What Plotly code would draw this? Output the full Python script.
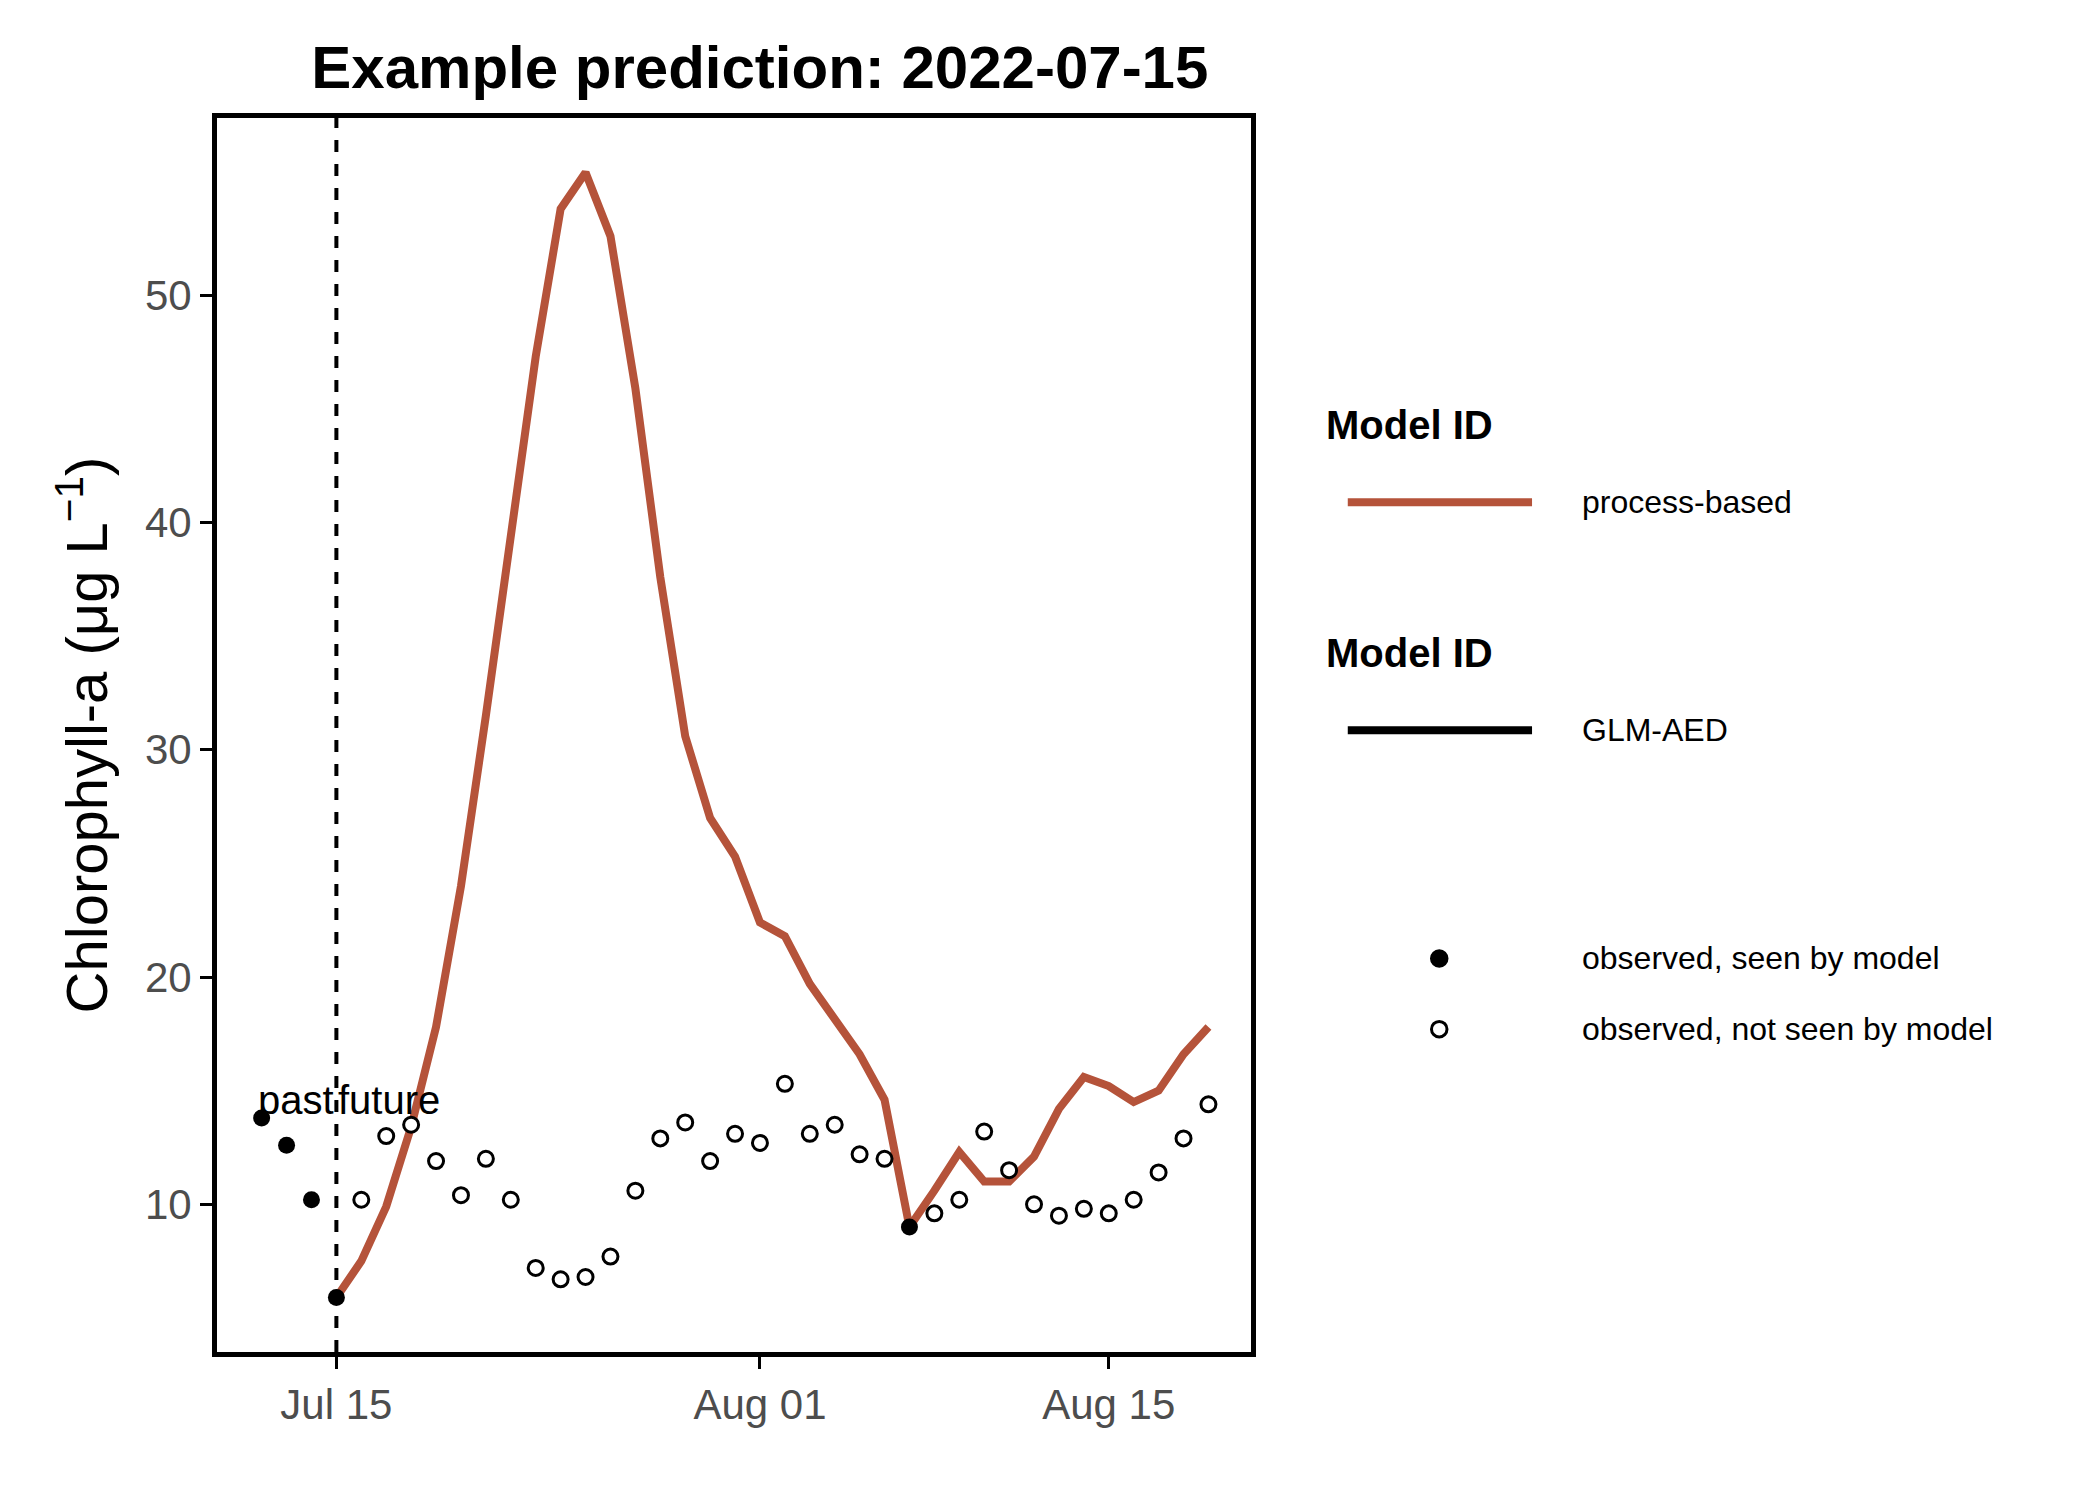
import plotly.graph_objects as go
import pandas as pd

line_dates = pd.date_range("2022-07-15", "2022-08-19").strftime("%Y-%m-%d").tolist()
line_vals = [5.9, 7.5, 9.9, 13.4, 17.8, 24.0, 31.5, 39.3, 47.3, 53.8,
             55.4, 52.6, 45.9, 37.6, 30.6, 27.0, 25.3, 22.4, 21.8, 19.7,
             18.1, 16.6, 14.6, 9.0, 10.6, 12.3, 11.0, 11.0, 12.1, 14.2,
             15.6, 15.2, 14.5, 15.0, 16.6, 17.8]

seen_dates = ["2022-07-12", "2022-07-13", "2022-07-14", "2022-07-15", "2022-08-07"]
seen_vals = [13.8, 12.6, 10.2, 5.9, 9.0]

unseen_dates = pd.date_range("2022-07-16", "2022-08-19").strftime("%Y-%m-%d").tolist()
unseen_dates.remove("2022-08-07")
unseen_vals = [10.2, 13.0, 13.5, 11.9, 10.4, 12.0, 10.2, 7.2, 6.7, 6.8,
               7.7, 10.6, 12.9, 13.6, 11.9, 13.1, 12.7, 15.3, 13.1, 13.5,
               12.2, 12.0, 9.6, 10.2, 13.2, 11.5, 10.0, 9.5, 9.8, 9.6,
               10.2, 11.4, 12.9, 14.4]

red = "#B5533A"
F = "Liberation Sans"

fig = go.Figure()
fig.add_trace(go.Scatter(x=line_dates, y=line_vals, mode="lines",
                         line=dict(color=red, width=8)))
fig.add_trace(go.Scatter(x=unseen_dates, y=unseen_vals, mode="markers",
                         marker=dict(color="white", size=15, line=dict(color="black", width=3))))
fig.add_trace(go.Scatter(x=seen_dates, y=seen_vals, mode="markers",
                         marker=dict(color="black", size=17)))

fig.add_shape(type="line", x0="2022-07-15", x1="2022-07-15", y0=0, y1=1, yref="paper",
              line=dict(color="black", width=4, dash="dash"))
fig.add_annotation(x="2022-07-15", y=14.6, text="past", showarrow=False, xanchor="right",
                   font=dict(family=F, size=40, color="black"))
fig.add_annotation(x="2022-07-15", y=14.6, text="future", showarrow=False, xanchor="left",
                   font=dict(family=F, size=40, color="black"))

# manual legend
def px(x):
    return (x - 155) / 780
def py(y):
    return (1010 - y) / 925

for ty, ly, lab, col in [(315, 373, "process-based", red), (486, 544, "GLM-AED", "black")]:
    fig.add_annotation(x=px(990), y=py(ty), xref="paper", yref="paper", text="<b>Model ID</b>",
                       showarrow=False, xanchor="left", yanchor="middle",
                       font=dict(family=F, size=40, color="black"))
    fig.add_shape(type="line", xref="paper", yref="paper", x0=px(1008), x1=px(1147),
                  y0=py(ly), y1=py(ly), line=dict(color=col, width=8))
    fig.add_annotation(x=px(1183), y=py(ly), xref="paper", yref="paper", text=lab,
                       showarrow=False, xanchor="left", yanchor="middle",
                       font=dict(family=F, size=32, color="black"))

for dy, lab, fill in [(715, "observed, seen by model", "black"), (768, "observed, not seen by model", "white")]:
    r = 0.0075
    fig.add_shape(type="circle", xref="paper", yref="paper",
                  x0=px(1077) - r, x1=px(1077) + r, y0=py(dy) - r * 0.84, y1=py(dy) + r * 0.84,
                  fillcolor=fill, line=dict(color="black", width=3))
    fig.add_annotation(x=px(1183), y=py(dy), xref="paper", yref="paper", text=lab,
                       showarrow=False, xanchor="left", yanchor="middle",
                       font=dict(family=F, size=32, color="black"))

fig.update_layout(
    width=2100, height=1500, plot_bgcolor="white", paper_bgcolor="white",
    showlegend=False,
    margin=dict(l=209, r=857, t=110, b=156),
    title=dict(text="<b>Example prediction: 2022-07-15</b>", x=0.525, xref="paper", xanchor="center",
               y=0.975, font=dict(family=F, size=60, color="black")),
    font=dict(family=F),
)
fig.update_xaxes(range=["2022-07-10 05:00", "2022-08-20 17:00"],
                 tickvals=["2022-07-15", "2022-08-01", "2022-08-15"],
                 ticktext=["Jul 15", "Aug 01", "Aug 15"],
                 showgrid=False, zeroline=False, showline=True, mirror=True,
                 linecolor="black", linewidth=5, ticks="outside", ticklen=12, tickwidth=3,
                 tickcolor="black", tickfont=dict(family=F, size=42, color="#4d4d4d"))
fig.update_yaxes(range=[3.5, 57.8], tickvals=[10, 20, 30, 40, 50],
                 showgrid=False, zeroline=False, showline=True, mirror=True,
                 linecolor="black", linewidth=5, ticks="outside", ticklen=12, tickwidth=3,
                 tickcolor="black", tickfont=dict(family=F, size=42, color="#4d4d4d"),
                 title=dict(text="Chlorophyll-a (μg L<sup>−1</sup>)", standoff=20,
                            font=dict(family=F, size=58, color="black")))

fig.write_html("out.html")
